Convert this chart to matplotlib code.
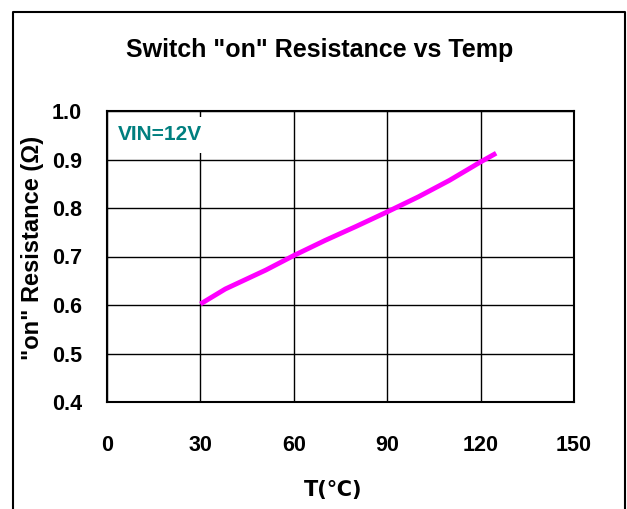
import matplotlib
matplotlib.use("Agg")
import matplotlib.pyplot as plt
from matplotlib.lines import Line2D

temps = [30, 38, 43, 51, 60, 70, 80, 90, 100, 110, 120, 125]
resistance = [0.602, 0.633, 0.648, 0.672, 0.702, 0.733, 0.762, 0.792, 0.823, 0.857, 0.895, 0.913]
x_ticks = [0, 30, 60, 90, 120, 150]
y_ticks = [0.4, 0.5, 0.6, 0.7, 0.8, 0.9, 1.0]
y_tick_labels = ["0.4", "0.5", "0.6", "0.7", "0.8", "0.9", "1.0"]

plt.rcParams['font.family'] = ['Liberation Sans Narrow', 'Liberation Sans', 'DejaVu Sans']
plt.rcParams['font.weight'] = 'bold'

W, H = 627, 509
fig = plt.figure(figsize=(W / 100, H / 100), dpi=100)
ax = fig.add_axes([107 / W, 1 - 402 / H, (574 - 107) / W, (402 - 111) / H])

ax.plot(temps, resistance, color='#FF00FF', lw=3.5, solid_capstyle='butt', zorder=3)

ax.set_xlim(0, 150)
ax.set_ylim(0.4, 1.0)
ax.set_xticks(x_ticks)
ax.set_yticks(y_ticks)
ax.set_yticklabels(y_tick_labels)
ax.grid(True, color='black', lw=1.0)
ax.set_axisbelow(True)
for s in ax.spines.values():
    s.set_linewidth(1.5)
ax.tick_params(axis='both', length=0, labelsize=15.5)
ax.tick_params(axis='y', pad=18)
ax.tick_params(axis='x', pad=24)
for lab in ax.get_xticklabels() + ax.get_yticklabels():
    lab.set_fontweight('bold')

ax.text(3.5, 0.951, "VIN=12V", color='#007F7F', fontsize=15, fontweight='bold',
        va='center', ha='left', zorder=2,
        bbox=dict(facecolor='white', edgecolor='none', pad=6))

fig.text(320 / W, 1 - 50 / H, 'Switch "on" Resistance vs Temp', ha='center', va='center',
         fontsize=18, fontweight='bold')
fig.text(333 / W, 1 - 490 / H, 'T(℃)', ha='center', va='center', fontsize=15,
         fontweight='bold', family=['Liberation Sans Narrow', 'DejaVu Sans'])
fig.text(33 / W, 1 - 248 / H, '"on" Resistance (Ω)', ha='center', va='center', rotation=90,
         fontsize=17, fontweight='bold', family=['Liberation Sans', 'DejaVu Sans'])

# outer border (left, top, right)
x0, x1, yt = 13 / W, 625 / W, 1 - 12 / H
fig.add_artist(Line2D([x0, x0, x1, x1], [0, yt, yt, 0], color='black', lw=1.5,
                      transform=fig.transFigure))

fig.savefig('out.png', dpi=100)
